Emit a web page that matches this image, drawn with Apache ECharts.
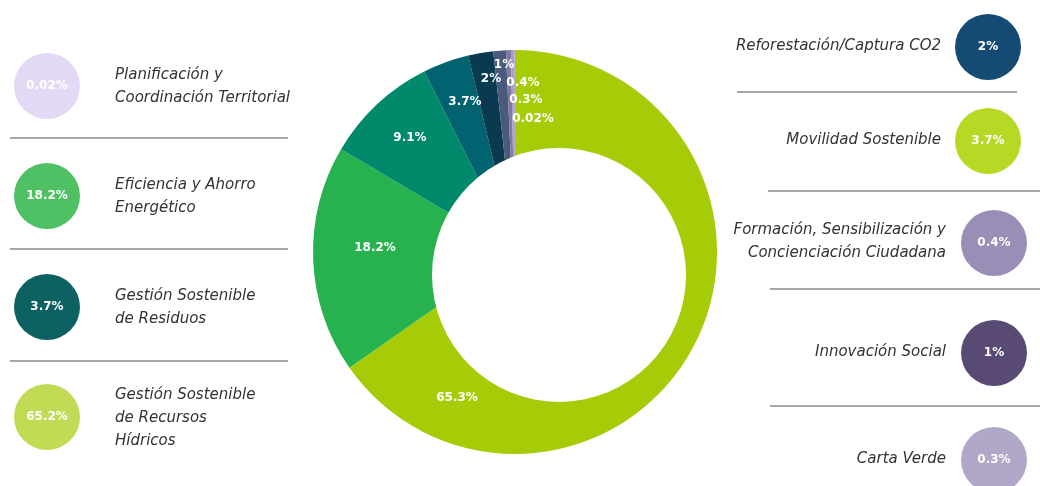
<!DOCTYPE html>
<html>
<head>
<meta charset="utf-8">
<script src="https://cdn.jsdelivr.net/npm/echarts@6/dist/echarts.min.js"></script>
<style>
  html, body { margin: 0; padding: 0; background: #fff; }
  #chart { width: 1040px; height: 486px; }
</style>
</head>
<body>
<div id="chart"></div>
<script>
// slices of the ring, clockwise from the top
const sliceValues = [65.3, 18.2, 9.1, 3.7, 2, 1, 0.4, 0.3, 0.02]
const sliceColors = ['#a6cc08', '#27b14f', '#008a6b', '#00636f', '#0a3a50', '#4a5a7a', '#7f7aa2', '#a99cc8', '#d3c4ea']

// side legends (as printed in the picture)
const leftNames = ['Planificación y\nCoordinación Territorial', 'Eficiencia y Ahorro\nEnergético', 'Gestión Sostenible\nde Residuos', 'Gestión Sostenible\nde Recursos\nHídricos']
const leftValues = [0.02, 18.2, 3.7, 65.2]
const leftColors = ['#e3d9f5', '#50c064', '#0e6163', '#c2db55']

const rightNames = ['Reforestación/Captura CO2', 'Movilidad Sostenible', 'Formación, Sensibilización y\nConcienciación Ciudadana', 'Innovación Social', 'Carta Verde']
const rightValues = [2, 3.7, 0.4, 1, 0.3]
const rightColors = ['#154a73', '#b6d925', '#9a8db6', '#584a73', '#b1a7c8']

// layout
const cx = 515, cy = 252, outerR = 202
const hole = { x: 559, y: 275, r: 127 }
// label offsets from the ring centre
const labelOffsets = [[-58, 146], [-140, -4], [-105, -114], [-50, -150], [-24, -173], [-11, -187], [8, -169], [11, -152], [18, -133]]
const leftY = [86, 196, 307, 417]
const leftLines = [138, 249, 361]
const rightY = [47, 141, 243, 353, 460]
const rightLines = [[92, 737, 1017], [191, 768, 1040], [289, 770, 1040], [406, 770, 1040]]

const chart = echarts.init(document.getElementById('chart'))

const numFont = 'bold 12px "DejaVu Sans", sans-serif'
const nameFont = 'italic 15px "DejaVu Sans", sans-serif'

const graphic = []
// white hole of the ring (sits off-centre in the original)
graphic.push({
  type: 'circle', z: 100, silent: true,
  shape: { cx: hole.x, cy: hole.y, r: hole.r },
  style: { fill: '#fff' }
})

leftNames.forEach((name, i) => {
  graphic.push({
    type: 'circle', shape: { cx: 47, cy: leftY[i], r: 33 },
    style: { fill: leftColors[i] }
  })
  graphic.push({
    type: 'text', x: 47, y: leftY[i],
    style: { text: leftValues[i] + '%', font: numFont, fill: '#fff', align: 'center', verticalAlign: 'middle' }
  })
  graphic.push({
    type: 'text', x: 115, y: leftY[i] + 1,
    style: { text: name, font: nameFont, fill: '#333', align: 'left', verticalAlign: 'middle', lineHeight: 23 }
  })
})
leftLines.forEach(y => {
  graphic.push({
    type: 'line', shape: { x1: 10, y1: y, x2: 288, y2: y },
    style: { stroke: '#8a8a8a', lineWidth: 1.5 }
  })
})

rightNames.forEach((name, i) => {
  const x = i < 2 ? 988 : 994
  graphic.push({
    type: 'circle', shape: { cx: x, cy: rightY[i], r: 33 },
    style: { fill: rightColors[i] }
  })
  graphic.push({
    type: 'text', x: x, y: rightY[i],
    style: { text: rightValues[i] + '%', font: numFont, fill: '#fff', align: 'center', verticalAlign: 'middle' }
  })
  graphic.push({
    type: 'text', x: i < 2 ? 941 : 946, y: rightY[i] - 1,
    style: { text: name, font: nameFont, fill: '#333', align: 'right', verticalAlign: 'middle', lineHeight: 23 }
  })
})
rightLines.forEach(([y, x1, x2]) => {
  graphic.push({
    type: 'line', shape: { x1: x1, y1: y, x2: x2, y2: y },
    style: { stroke: '#8a8a8a', lineWidth: 1.5 }
  })
})

const option = {
  backgroundColor: '#fff',
  animation: false,
  graphic: graphic,
  series: [{
    type: 'pie',
    center: [cx, cy],
    radius: [40, outerR],
    startAngle: 90,
    clockwise: true,
    silent: true,
    data: sliceValues.map((v, i) => ({ value: v, itemStyle: { color: sliceColors[i] } })),
    label: {
      show: true,
      position: 'inside',
      formatter: '{c}%',
      color: '#fff',
      fontFamily: 'DejaVu Sans',
      fontWeight: 'bold',
      fontSize: 12
    },
    labelLine: { show: false },
    labelLayout: (p) => ({
      x: cx + labelOffsets[p.dataIndex][0],
      y: cy + labelOffsets[p.dataIndex][1],
      align: 'center',
      verticalAlign: 'middle'
    })
  }]
}

chart.setOption(option)
</script>
</body>
</html>
